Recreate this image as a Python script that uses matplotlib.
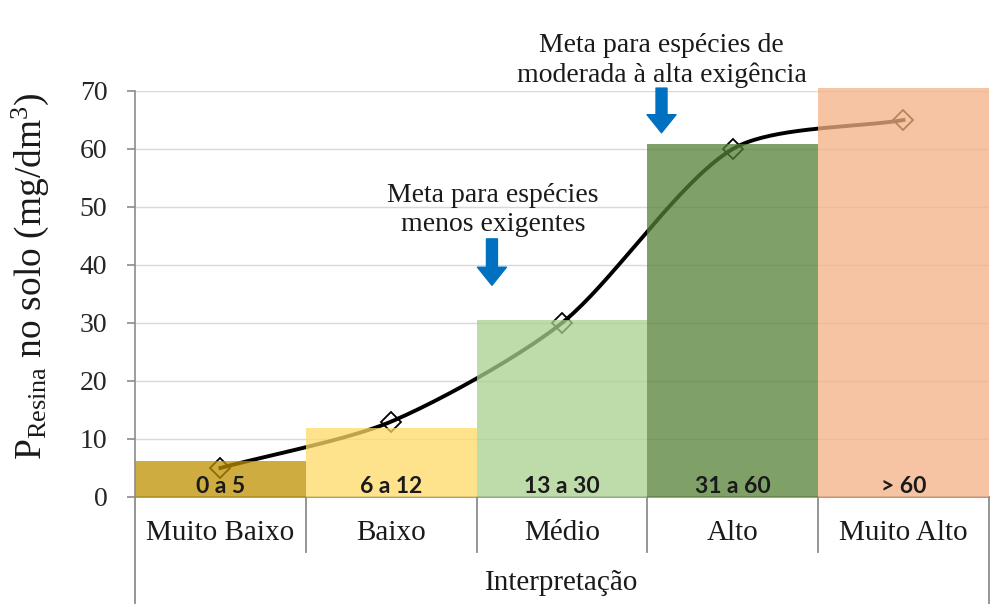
import numpy as np
import matplotlib
matplotlib.use('Agg')
import matplotlib.pyplot as plt
import matplotlib.transforms as mtransforms

# Data
categories = ['Muito Baixo', 'Baixo', 'Médio', 'Alto', 'Muito Alto']
ranges = ['0 a 5', '6 a 12', '13 a 30', '31 a 60', '> 60']
bar_tops = [6.2, 11.9, 30.5, 60.8, 70.5]
line_values = [5, 13, 30, 60, 65]
bar_colors = ['#BF9000', '#FFD966', '#A9D18E', '#548235', '#F4B183']
arrow_notes = ['Meta para espécies\nmenos exigentes',
               'Meta para espécies de\nmoderada à alta exigência']

plt.rcParams['font.family'] = ['Liberation Serif', 'DejaVu Serif']
plt.rcParams['mathtext.fontset'] = 'custom'
plt.rcParams['mathtext.rm'] = 'Liberation Serif'
plt.rcParams['mathtext.it'] = 'Liberation Serif:italic'


def smooth(xs, ys, xscale=29.4, k=0.27, n=40):
    # Excel-like smoothed line: bezier with chord-weighted tangents (screen units)
    P = np.column_stack([np.asarray(xs, float) * xscale, np.asarray(ys, float)])
    m = len(P)
    d = np.linalg.norm(np.diff(P, axis=0), axis=1)
    cout, cin = [], []
    for i in range(m):
        a = P[max(i - 1, 0)]
        b = P[min(i + 1, m - 1)]
        T = b - a
        dl = d[i - 1] if i > 0 else 0.0
        dr = d[i] if i < m - 1 else 0.0
        s = dl + dr
        cout.append(P[i] + T * dr / s * k)
        cin.append(P[i] - T * dl / s * k)
    t = np.linspace(0, 1, n)[:, None]
    pts = []
    for i in range(m - 1):
        p0, p1, p2, p3 = P[i], cout[i], cin[i + 1], P[i + 1]
        b = (1 - t) ** 3 * p0 + 3 * (1 - t) ** 2 * t * p1 + 3 * (1 - t) * t ** 2 * p2 + t ** 3 * p3
        pts.append(b)
    pts = np.vstack(pts)
    return pts[:, 0] / xscale, pts[:, 1]


fig = plt.figure(figsize=(10.08, 6.14), dpi=100)
ax = fig.add_axes([0.134, 0.1906, 0.847, 0.6612])

x = np.arange(len(categories))

ax.set_ylim(0, 70)
ax.set_xlim(-0.5, len(categories) - 0.5)
ax.set_yticks(range(0, 71, 10))
ax.yaxis.grid(True, color='#D9D9D9', linewidth=1)
ax.set_axisbelow(True)

# smoothed line behind the translucent bars
sx, sy = smooth(x, line_values)
ax.plot(sx, sy, color='black', linewidth=2.8, zorder=2)
ax.plot(x, line_values, linestyle='none', marker='D', markersize=10,
        markerfacecolor='none', markeredgecolor='black', markeredgewidth=1.3, zorder=2)

ax.bar(x, bar_tops, width=1.0, color=bar_colors, alpha=0.75, zorder=3, clip_on=False)

for xi, r in zip(x, ranges):
    ax.text(xi, 0.0, r, ha='center', va='bottom', fontsize=16.5, fontweight='bold',
            family=['Lato', 'DejaVu Sans'], color='#1a1a1a', zorder=4)

for s in ['top', 'right']:
    ax.spines[s].set_visible(False)
ax.spines['left'].set_color('#8C8C8C')
ax.spines['bottom'].set_color('#8C8C8C')
ax.spines['left'].set_linewidth(1.2)
ax.spines['bottom'].set_linewidth(1.2)
ax.tick_params(axis='y', length=6, width=1.2, color='#8C8C8C', labelsize=20, pad=14,
               labelcolor='#262626')
ax.set_xticks([])

# category table under the axis
trans = mtransforms.blended_transform_factory(ax.transData, ax.transAxes)
edges = np.arange(len(categories) + 1) - 0.5
for i, e in enumerate(edges):
    bottom = -0.261 if i in (0, len(edges) - 1) else -0.135
    ax.plot([e, e], [0, bottom], transform=trans, color='#8C8C8C', linewidth=1.3, clip_on=False)
for xi, c in zip(x, categories):
    ax.text(xi, -0.089, c, transform=trans, ha='center', va='center', fontsize=21, color='#1a1a1a')
ax.text(np.mean(x), -0.212, 'Interpretação', transform=trans, ha='center', va='center',
        fontsize=21, color='#1a1a1a')

ax.set_ylabel(r'P$_{\mathrm{Resina}}$ no solo (mg/dm$^{3}$)', fontsize=27, color='#1a1a1a')
ax.yaxis.set_label_coords(-0.098, 0.545)

# arrows and notes
arrow_kw = dict(arrowstyle='simple,head_width=20.9,head_length=13,tail_width=7.9',
                mutation_scale=1, color='#0070C0', shrinkA=0, shrinkB=0)
ax.annotate('', xy=(1.59, 36.5), xytext=(1.59, 44.5), arrowprops=arrow_kw, annotation_clip=False)
ax.annotate('', xy=(2.583, 62.8), xytext=(2.583, 70.5), arrowprops=arrow_kw, annotation_clip=False)
ax.text(1.595, 44.9, arrow_notes[0], ha='center', va='bottom', fontsize=20,
        linespacing=1.2, color='#1a1a1a')
ax.text(2.585, 70.6, arrow_notes[1], ha='center', va='bottom', fontsize=20,
        linespacing=1.2, color='#1a1a1a')

fig.savefig('out.png', dpi=100)
